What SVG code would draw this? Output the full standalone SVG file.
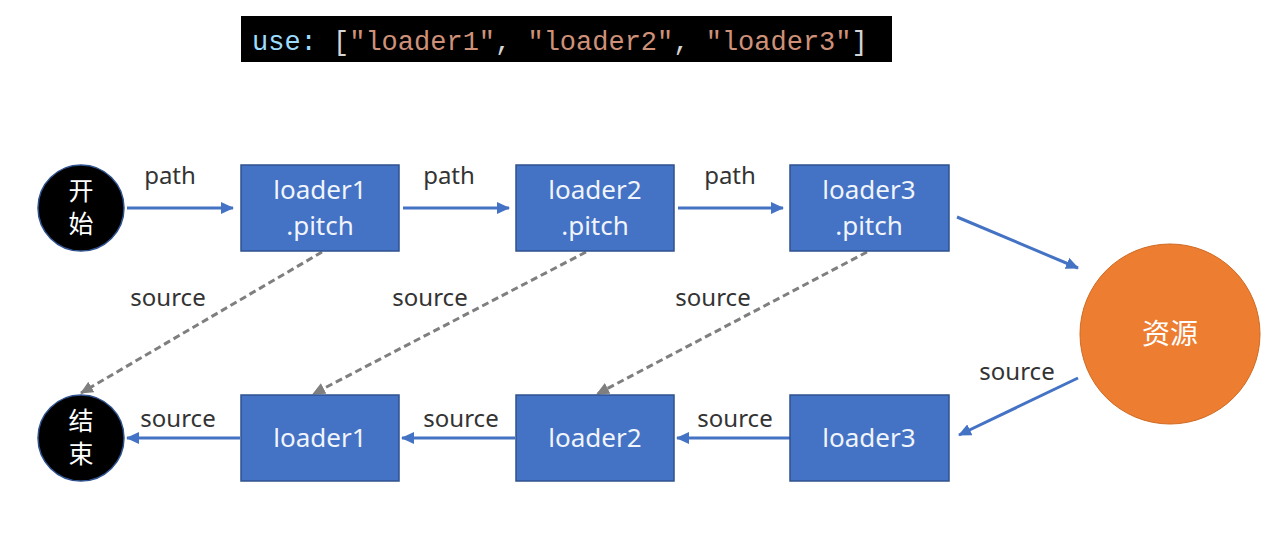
<svg xmlns="http://www.w3.org/2000/svg" width="1281" height="549" viewBox="0 0 1281 549">
<style>
.lbl{font-family:"Noto Sans","Liberation Sans",sans-serif;font-size:24px;fill:#333;text-anchor:middle}
.box{fill:#4472c4;stroke:#2f528f;stroke-width:1.5}
.bt{font-family:"Noto Sans","Liberation Sans",sans-serif;font-size:26px;fill:#f0f4fb;text-anchor:middle}
.ct{font-family:"Noto Sans CJK SC",sans-serif;font-size:25px;fill:#fff;text-anchor:middle}
.blue{stroke:#4472c4;stroke-width:3;fill:none;marker-end:url(#ab)}
.dash{stroke:#7f7f7f;stroke-width:3;fill:none;stroke-dasharray:7,4;marker-end:url(#ag)}
.code{font-family:"Liberation Mono","DejaVu Sans Mono",monospace;font-size:27px}
</style>
<defs>
<marker id="ab" markerUnits="userSpaceOnUse" markerWidth="14" markerHeight="12" refX="12" refY="6" orient="auto"><path d="M0,0 L13,6 L0,12 Z" fill="#4472c4"/></marker>
<marker id="ag" markerUnits="userSpaceOnUse" markerWidth="14" markerHeight="12" refX="12" refY="6" orient="auto"><path d="M0,0 L13,6 L0,12 Z" fill="#7f7f7f"/></marker>
</defs>
<rect width="1281" height="549" fill="#fff"/>
<g id="code">
<rect x="241" y="16" width="651" height="46" fill="#000"/>
<text x="252" y="50" class="code"><tspan fill="#9cdcfe">use:</tspan><tspan fill="#d4d4d4"> [</tspan><tspan fill="#ce9178">"loader1"</tspan><tspan fill="#d4d4d4">, </tspan><tspan fill="#ce9178">"loader2"</tspan><tspan fill="#d4d4d4">, </tspan><tspan fill="#ce9178">"loader3"</tspan><tspan fill="#d4d4d4">]</tspan></text>
</g>
<g id="connectors">
<line x1="127" y1="208" x2="233" y2="208" class="blue"/>
<line x1="403" y1="208" x2="509" y2="208" class="blue"/>
<line x1="678" y1="208" x2="783" y2="208" class="blue"/>
<line x1="957" y1="217" x2="1078" y2="268" class="blue"/>
<line x1="1078" y1="378" x2="959" y2="435" class="blue"/>
<line x1="790" y1="438" x2="677" y2="438" class="blue"/>
<line x1="515" y1="438" x2="402" y2="438" class="blue"/>
<line x1="240" y1="438" x2="127" y2="438" class="blue"/>
<line x1="322" y1="252" x2="81" y2="393" class="dash"/>
<line x1="586" y1="252" x2="313" y2="394" class="dash"/>
<line x1="867" y1="252" x2="597" y2="394" class="dash"/>
<text x="170" y="184" class="lbl">path</text>
<text x="449" y="184" class="lbl">path</text>
<text x="730" y="184" class="lbl">path</text>
<text x="168" y="306" class="lbl">source</text>
<text x="430" y="306" class="lbl">source</text>
<text x="713" y="306" class="lbl">source</text>
<text x="1017" y="380" class="lbl">source</text>
<text x="178" y="427" class="lbl">source</text>
<text x="461" y="427" class="lbl">source</text>
<text x="735" y="427" class="lbl">source</text>
</g>
<g id="start">
<circle cx="81" cy="208" r="43" fill="#000" stroke="#2f528f" stroke-width="1.5"/>
<text x="81" y="200" class="ct">开</text>
<text x="81" y="233" class="ct">始</text>
</g>
<g id="end">
<circle cx="81" cy="438" r="43" fill="#000" stroke="#2f528f" stroke-width="1.5"/>
<text x="81" y="430" class="ct">结</text>
<text x="81" y="463" class="ct">束</text>
</g>
<g id="resource">
<circle cx="1170" cy="334" r="90" fill="#ed7d31" stroke="#d06a22" stroke-width="1"/>
<text x="1170" y="344" class="ct" style="font-size:28px">资源</text>
</g>
<g id="p1"><rect x="241" y="165" width="158" height="86" class="box"/><text x="320" y="199" class="bt">loader1</text><text x="320" y="235" class="bt">.pitch</text></g>
<g id="p2"><rect x="516" y="165" width="158" height="86" class="box"/><text x="595" y="199" class="bt">loader2</text><text x="595" y="235" class="bt">.pitch</text></g>
<g id="p3"><rect x="790" y="165" width="159" height="86" class="box"/><text x="869" y="199" class="bt">loader3</text><text x="869" y="235" class="bt">.pitch</text></g>
<g id="l1"><rect x="241" y="395" width="158" height="86" class="box"/><text x="320" y="447" class="bt">loader1</text></g>
<g id="l2"><rect x="516" y="395" width="158" height="86" class="box"/><text x="595" y="447" class="bt">loader2</text></g>
<g id="l3"><rect x="790" y="395" width="159" height="86" class="box"/><text x="869" y="447" class="bt">loader3</text></g>
</svg>
